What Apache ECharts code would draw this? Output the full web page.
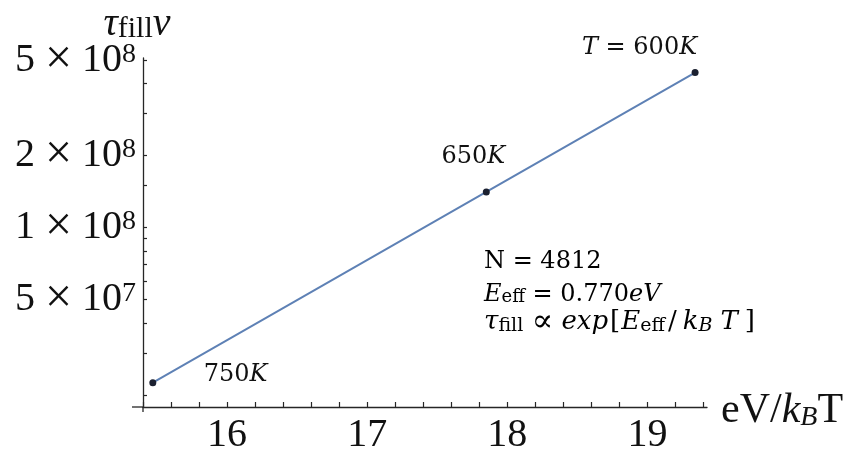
<!DOCTYPE html>
<html>
<head>
<meta charset="utf-8">
<script src="https://cdn.jsdelivr.net/npm/echarts@6/dist/echarts.min.js"></script>
<style>
  html, body { margin: 0; padding: 0; background: #ffffff; }
  #chart { width: 856px; height: 452px; }
</style>
</head>
<body>
<div id="chart"></div>
<script>
// Filling time (tau_fill * nu) against eV / k_B T, log scale, Arrhenius fit
const temperaturesK = [750, 650, 600];
const inverseThermal = [15.47, 17.85, 19.34];      // eV / k_B T
const tauFillNu = [2.25e7, 1.41e8, 4.45e8];
const pointLabels = ['750K', '650K', 'T = 600K'];

const xLabelTicks = [16, 17, 18, 19];
const xAllTicks = [15.4, 15.6, 15.8, 16, 16.2, 16.4, 16.6, 16.8, 17, 17.2, 17.4, 17.6, 17.8,
                   18, 18.2, 18.4, 18.6, 18.8, 19, 19.2, 19.4];
const yLabelTicks = [5e7, 1e8, 2e8, 5e8];
const yAllTicks = [2e7, 3e7, 4e7, 5e7, 6e7, 7e7, 8e7, 9e7, 1e8, 1.5e8, 2e8, 3e8, 4e8, 5e8];

const xRange = [15.4, 19.425];
const yRange = [1.78e7, 5.12e8];

const yAxisTitle = '{t|τ}{sub|fill}{v|ν}';
const annotationLines = [
  '{r|N = 4812}',
  '{i|E}{sub|eff}{r| = 0.770}{i|eV}',
  '{i3|τ}{sub3|fill}{r3| }{p3|∝}{r3| }{i3|exp}{b3|[}{i3|E}{sub3|eff}{sl3|/}{i3|k}{isub3|B}{t3|T}{e3|]}'
];

// label placement relative to each point (styling, not data)
const labelPlacement = [
  { position: 'inside', align: 'left',   offset: [51, -8] },
  { position: 'inside', align: 'center', offset: [-13, -35] },
  { position: 'inside', align: 'right',  offset: [2, -25] }
];

const AXIS_FONT = '"Liberation Serif", "Times New Roman", serif';
const MATH_FONT = '"DejaVu Serif", serif';
const INK = '#111111';
const AXIS_COLOR = '#262626';

// letters italic (math variables), digits and operators upright
function italicizeLetters(str) {
  let out = '', buf = '', mode = null;
  for (const ch of str) {
    const m = /[A-Za-z]/.test(ch) ? 'i' : 'r';
    if (m !== mode && buf) { out += '{' + mode + '|' + buf + '}'; buf = ''; }
    mode = m; buf += ch;
  }
  if (buf) out += '{' + mode + '|' + buf + '}';
  return out;
}

function sciLabel(v) {
  const e = Math.floor(Math.log10(v) + 1e-9);
  const m = Math.round(v / Math.pow(10, e));
  return '{m|' + m + ' }{x|×}{m| 10}{s|' + e + '}';
}

function mathStyle(size, italic, extra) {
  return Object.assign({ fontFamily: MATH_FONT, fontSize: size, color: INK, lineHeight: 26,
                         fontStyle: italic ? 'italic' : 'normal' }, extra || {});
}

const mathRich = {
  r:     mathStyle(24, false, { lineHeight: 24 }),
  i:     mathStyle(24, true,  { lineHeight: 24 }),
  sub:   mathStyle(18, false, { lineHeight: 4, verticalAlign: 'bottom' }),
  r3:    mathStyle(26, false),
  i3:    mathStyle(26, true),
  p3:    mathStyle(32, false),
  b3:    mathStyle(26, false, { padding: [0, 1, 0, 2] }),
  sl3:   mathStyle(26, false, { padding: [0, 6, 0, 3] }),
  t3:    mathStyle(26, true,  { padding: [0, 0, 0, 8] }),
  e3:    mathStyle(26, false, { padding: [0, 0, 0, 7] }),
  sub3:  mathStyle(19, false, { lineHeight: 6, verticalAlign: 'bottom' }),
  isub3: mathStyle(19, true,  { lineHeight: 6, verticalAlign: 'bottom' })
};

const titleRich = {
  t:   { fontFamily: AXIS_FONT, fontSize: 40, fontStyle: 'italic', fill: INK, lineHeight: 40 },
  sub: { fontFamily: AXIS_FONT, fontSize: 30, fill: INK, lineHeight: 17, verticalAlign: 'bottom' },
  v:   { fontFamily: AXIS_FONT, fontSize: 40, fontStyle: 'italic', fill: INK, lineHeight: 30, verticalAlign: 'top' }
};

const pointRich = {
  r: { fontFamily: MATH_FONT, fontSize: 24, color: INK, lineHeight: 24 },
  i: { fontFamily: MATH_FONT, fontSize: 24, fontStyle: 'italic', color: INK, lineHeight: 24 }
};

const chart = echarts.init(document.getElementById('chart'), null, { renderer: 'canvas' });

const annotationCenters = [261.7, 294.7, 322.5];

chart.setOption({
  animation: false,
  backgroundColor: '#ffffff',
  grid: { left: 143, right: 149, top: 58, bottom: 45, containLabel: false, outerBoundsMode: 'none' },
  xAxis: {
    type: 'value', min: xRange[0], max: xRange[1], position: 'bottom',
    axisLine: { show: true, onZero: false, lineStyle: { color: AXIS_COLOR, width: 1.3 } },
    axisTick: { show: true, inside: true, length: 5, customValues: xAllTicks,
                lineStyle: { color: AXIS_COLOR, width: 1.2 } },
    axisLabel: { show: true, customValues: xLabelTicks, fontFamily: AXIS_FONT, fontSize: 40,
                 color: INK, margin: 8 },
    splitLine: { show: false },
    name: '{r|eV/}{i|k}{sub|B}{r|T}',
    nameLocation: 'end', nameGap: 14,
    nameTextStyle: {
      padding: [8, 0, 0, 0],
      rich: {
        r:   { fontFamily: AXIS_FONT, fontSize: 42, color: INK, lineHeight: 42 },
        i:   { fontFamily: AXIS_FONT, fontSize: 42, fontStyle: 'italic', color: INK, lineHeight: 42 },
        sub: { fontFamily: AXIS_FONT, fontSize: 28, fontStyle: 'italic', color: INK, lineHeight: 16, verticalAlign: 'bottom' }
      }
    }
  },
  yAxis: {
    type: 'log', logBase: 10, min: yRange[0], max: yRange[1], position: 'left',
    axisLine: { show: true, onZero: false, lineStyle: { color: AXIS_COLOR, width: 1.3 } },
    axisTick: { show: true, inside: true, length: 4, customValues: yAllTicks,
                lineStyle: { color: AXIS_COLOR, width: 1.2 } },
    axisLabel: {
      show: true, customValues: yLabelTicks, margin: 7, formatter: sciLabel,
      rich: {
        m: { fontFamily: AXIS_FONT, fontSize: 40, color: INK, lineHeight: 40 },
        x: { fontFamily: AXIS_FONT, fontSize: 48, color: INK, lineHeight: 40 },
        s: { fontFamily: AXIS_FONT, fontSize: 28, color: INK, lineHeight: 14, verticalAlign: 'top' }
      }
    },
    splitLine: { show: false }
  },
  series: [{
    type: 'line',
    data: inverseThermal.map((x, i) => ({
      value: [x, tauFillNu[i]],
      name: temperaturesK[i] + 'K',
      label: labelPlacement[i]
    })),
    symbol: 'circle', symbolSize: 7,
    itemStyle: { color: '#1b2030', borderWidth: 0 },
    lineStyle: { color: '#5E81B5', width: 2 },
    label: {
      show: true,
      formatter: p => italicizeLetters(pointLabels[p.dataIndex]),
      rich: pointRich
    },
    emphasis: { disabled: true },
    z: 3
  }],
  graphic: annotationLines.map((txt, k) => ({
    id: 'note' + k,
    type: 'text',
    x: 484, y: annotationCenters[k],
    style: { text: txt, rich: mathRich, align: 'left', verticalAlign: 'middle' },
    z: 10
  }))
});

// Mathematica-style crossing: axes run a little past their intersection;
// the vertical axis title sits just above the top end of the axis
const origin = chart.convertToPixel({ xAxisIndex: 0, yAxisIndex: 0 }, [xRange[0], yRange[0]]);
const axisTop = chart.convertToPixel({ xAxisIndex: 0, yAxisIndex: 0 }, [xRange[0], yRange[1]]);
chart.setOption({
  graphic: [
    { id: 'xExt', type: 'line', shape: { x1: origin[0] - 11, y1: origin[1], x2: origin[0], y2: origin[1] },
      style: { stroke: AXIS_COLOR, lineWidth: 1.3 }, z: 5 },
    { id: 'yExt', type: 'line', shape: { x1: origin[0], y1: origin[1], x2: origin[0], y2: origin[1] + 5 },
      style: { stroke: AXIS_COLOR, lineWidth: 1.3 }, z: 5 },
    { id: 'yTitle', type: 'text', x: axisTop[0] - 6, y: axisTop[1] - 33.5,
      style: { text: yAxisTitle, rich: titleRich, fill: INK, align: 'center', verticalAlign: 'middle' }, z: 5 }
  ]
});
</script>
</body>
</html>
